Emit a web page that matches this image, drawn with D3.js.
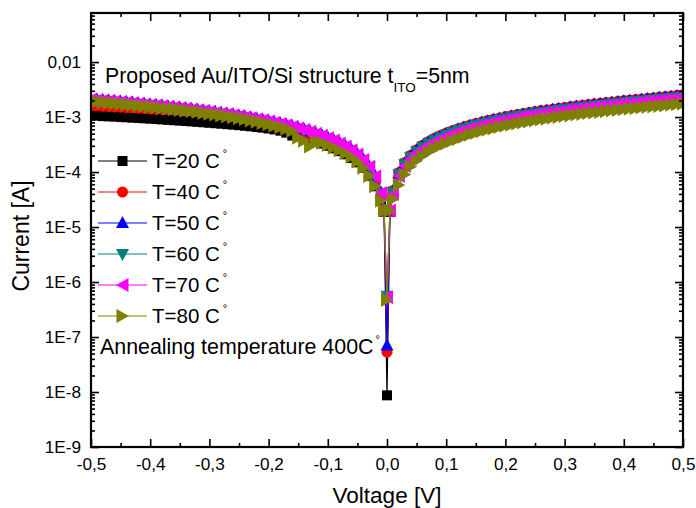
<!DOCTYPE html>
<html>
<head>
<meta charset="utf-8">
<script src="https://cdn.jsdelivr.net/npm/d3@7"></script>
<style>
  html, body { margin: 0; padding: 0; background: #ffffff; }
  svg { display: block; font-family: "Liberation Sans", Arial, sans-serif; }
</style>
</head>
<body>
<svg id="chart" width="696" height="508"></svg>
<script>
// Bias sweep, volts
const voltage = [
  -0.50,-0.49,-0.48,-0.47,-0.46,-0.45,-0.44,-0.43,-0.42,-0.41,
  -0.40,-0.39,-0.38,-0.37,-0.36,-0.35,-0.34,-0.33,-0.32,-0.31,
  -0.30,-0.29,-0.28,-0.27,-0.26,-0.25,-0.24,-0.23,-0.22,-0.21,
  -0.20,-0.19,-0.18,-0.17,-0.16,-0.15,-0.14,-0.13,-0.12,-0.11,
  -0.10,-0.09,-0.08,-0.07,-0.06,-0.05,-0.04,-0.03,-0.02,-0.01,
  -0.005, 0, 0.005,
  0.01,0.02,0.03,0.04,0.05,0.06,0.07,0.08,0.09,0.10,
  0.11,0.12,0.13,0.14,0.15,0.16,0.17,0.18,0.19,0.20,
  0.21,0.22,0.23,0.24,0.25,0.26,0.27,0.28,0.29,0.30,
  0.31,0.32,0.33,0.34,0.35,0.36,0.37,0.38,0.39,0.40,
  0.41,0.42,0.43,0.44,0.45,0.46,0.47,0.48,0.49,0.50
];

// Measured |I| in amperes, one array per measurement temperature
const current20 = [
  1.07e-3,1.06e-3,1.04e-3,1.03e-3,1.02e-3,1.00e-3,9.90e-4,9.75e-4,9.62e-4,9.48e-4,
  9.35e-4,9.20e-4,9.05e-4,8.90e-4,8.76e-4,8.62e-4,8.48e-4,8.33e-4,8.18e-4,8.03e-4,
  7.88e-4,7.73e-4,7.58e-4,7.43e-4,7.28e-4,7.12e-4,6.95e-4,6.78e-4,6.60e-4,6.41e-4,
  6.20e-4,5.96e-4,5.65e-4,5.20e-4,4.60e-4,4.50e-4,4.20e-4,3.90e-4,3.60e-4,3.30e-4,
  3.00e-4,2.70e-4,2.40e-4,2.10e-4,1.80e-4,1.50e-4,1.20e-4,8.50e-5,5.50e-5,3.00e-5,
  1.90e-5, 8.7e-9, 1.90e-5,
  4.40e-5,9.30e-5,1.42e-4,1.91e-4,2.43e-4,2.92e-4,3.41e-4,3.90e-4,4.39e-4,4.88e-4,
  5.37e-4,5.85e-4,6.33e-4,6.81e-4,7.29e-4,7.77e-4,8.25e-4,8.72e-4,9.19e-4,9.66e-4,
  1.01e-3,1.06e-3,1.11e-3,1.15e-3,1.20e-3,1.24e-3,1.28e-3,1.33e-3,1.38e-3,1.42e-3,
  1.47e-3,1.52e-3,1.56e-3,1.61e-3,1.66e-3,1.71e-3,1.74e-3,1.79e-3,1.84e-3,1.89e-3,
  1.94e-3,1.99e-3,2.04e-3,2.09e-3,2.14e-3,2.20e-3,2.24e-3,2.30e-3,2.36e-3,2.43e-3
];
const current40 = [
  1.62e-3,1.60e-3,1.57e-3,1.55e-3,1.53e-3,1.51e-3,1.48e-3,1.47e-3,1.45e-3,1.43e-3,
  1.41e-3,1.39e-3,1.38e-3,1.37e-3,1.36e-3,1.35e-3,1.34e-3,1.31e-3,1.27e-3,1.23e-3,
  1.18e-3,1.14e-3,1.10e-3,1.06e-3,1.02e-3,9.84e-4,9.39e-4,8.94e-4,8.50e-4,8.05e-4,
  7.62e-4,7.19e-4,6.75e-4,6.28e-4,5.90e-4,5.40e-4,4.90e-4,4.50e-4,4.10e-4,3.75e-4,
  3.40e-4,3.05e-4,2.70e-4,2.38e-4,2.05e-4,1.70e-4,1.35e-4,1.00e-4,6.50e-5,3.50e-5,
  1.95e-5, 5.3e-8, 2.00e-5,
  4.60e-5,9.80e-5,1.49e-4,2.01e-4,2.55e-4,3.07e-4,3.58e-4,4.10e-4,4.61e-4,5.13e-4,
  5.64e-4,6.15e-4,6.65e-4,7.16e-4,7.66e-4,8.17e-4,8.67e-4,9.17e-4,9.66e-4,1.02e-3,
  1.06e-3,1.11e-3,1.16e-3,1.21e-3,1.26e-3,1.31e-3,1.35e-3,1.40e-3,1.45e-3,1.49e-3,
  1.55e-3,1.60e-3,1.64e-3,1.69e-3,1.74e-3,1.79e-3,1.83e-3,1.88e-3,1.94e-3,1.99e-3,
  2.04e-3,2.09e-3,2.14e-3,2.19e-3,2.25e-3,2.31e-3,2.36e-3,2.42e-3,2.48e-3,2.55e-3
];
const current50 = [
  2.13e-3,2.08e-3,2.04e-3,2.00e-3,1.96e-3,1.91e-3,1.87e-3,1.83e-3,1.79e-3,1.74e-3,
  1.70e-3,1.66e-3,1.62e-3,1.57e-3,1.53e-3,1.49e-3,1.45e-3,1.40e-3,1.36e-3,1.32e-3,
  1.28e-3,1.23e-3,1.19e-3,1.15e-3,1.11e-3,1.06e-3,1.02e-3,9.78e-4,9.35e-4,8.93e-4,
  8.50e-4,8.08e-4,7.65e-4,7.23e-4,6.80e-4,6.38e-4,5.95e-4,5.53e-4,5.10e-4,4.68e-4,
  4.25e-4,3.83e-4,3.40e-4,2.98e-4,2.55e-4,2.13e-4,1.70e-4,1.28e-4,8.50e-5,4.25e-5,
  2.15e-5, 7.0e-8, 2.00e-5,
  4.50e-5,9.50e-5,1.45e-4,1.95e-4,2.48e-4,2.98e-4,3.48e-4,3.98e-4,4.48e-4,4.98e-4,
  5.48e-4,5.97e-4,6.46e-4,6.95e-4,7.44e-4,7.93e-4,8.42e-4,8.90e-4,9.38e-4,9.86e-4,
  1.03e-3,1.08e-3,1.13e-3,1.17e-3,1.22e-3,1.27e-3,1.31e-3,1.36e-3,1.41e-3,1.45e-3,
  1.50e-3,1.55e-3,1.59e-3,1.64e-3,1.69e-3,1.74e-3,1.78e-3,1.83e-3,1.88e-3,1.93e-3,
  1.98e-3,2.03e-3,2.08e-3,2.13e-3,2.18e-3,2.24e-3,2.29e-3,2.35e-3,2.41e-3,2.48e-3
];
const current60 = [
  2.05e-3,2.01e-3,1.97e-3,1.93e-3,1.89e-3,1.85e-3,1.80e-3,1.76e-3,1.72e-3,1.68e-3,
  1.64e-3,1.60e-3,1.56e-3,1.52e-3,1.48e-3,1.44e-3,1.39e-3,1.35e-3,1.31e-3,1.27e-3,
  1.23e-3,1.19e-3,1.15e-3,1.11e-3,1.07e-3,1.03e-3,9.84e-4,9.43e-4,9.02e-4,8.61e-4,
  8.20e-4,7.79e-4,7.38e-4,6.97e-4,6.56e-4,6.15e-4,5.74e-4,5.33e-4,4.92e-4,4.51e-4,
  4.10e-4,3.69e-4,3.28e-4,2.87e-4,2.46e-4,2.05e-4,1.64e-4,1.23e-4,8.20e-5,4.10e-5,
  2.05e-5, 5.6e-7, 2.00e-5,
  4.30e-5,9.00e-5,1.38e-4,1.85e-4,2.36e-4,2.83e-4,3.31e-4,3.78e-4,4.26e-4,4.73e-4,
  5.21e-4,5.67e-4,6.14e-4,6.60e-4,7.07e-4,7.53e-4,8.00e-4,8.46e-4,8.91e-4,9.37e-4,
  9.79e-4,1.03e-3,1.07e-3,1.11e-3,1.16e-3,1.21e-3,1.24e-3,1.29e-3,1.34e-3,1.38e-3,
  1.43e-3,1.47e-3,1.51e-3,1.56e-3,1.61e-3,1.65e-3,1.69e-3,1.74e-3,1.79e-3,1.83e-3,
  1.88e-3,1.93e-3,1.98e-3,2.02e-3,2.07e-3,2.13e-3,2.18e-3,2.23e-3,2.29e-3,2.36e-3
];
const current70 = [
  2.08e-3,2.03e-3,1.99e-3,1.95e-3,1.91e-3,1.87e-3,1.83e-3,1.78e-3,1.74e-3,1.70e-3,
  1.66e-3,1.62e-3,1.58e-3,1.54e-3,1.49e-3,1.45e-3,1.41e-3,1.37e-3,1.33e-3,1.29e-3,
  1.25e-3,1.20e-3,1.16e-3,1.12e-3,1.08e-3,1.04e-3,9.96e-4,9.55e-4,9.13e-4,8.72e-4,
  8.30e-4,7.89e-4,7.47e-4,7.06e-4,6.64e-4,6.23e-4,5.81e-4,5.40e-4,4.98e-4,4.57e-4,
  4.15e-4,3.74e-4,3.32e-4,2.91e-4,2.49e-4,2.08e-4,1.66e-4,1.25e-4,8.30e-5,4.15e-5,
  2.10e-5, 5.3e-7, 2.00e-5,
  4.00e-5,8.50e-5,1.29e-4,1.74e-4,2.21e-4,2.65e-4,3.10e-4,3.54e-4,3.99e-4,4.43e-4,
  4.88e-4,5.31e-4,5.75e-4,6.19e-4,6.62e-4,7.06e-4,7.49e-4,7.92e-4,8.35e-4,8.78e-4,
  9.17e-4,9.61e-4,1.01e-3,1.04e-3,1.09e-3,1.13e-3,1.17e-3,1.21e-3,1.25e-3,1.29e-3,
  1.34e-3,1.38e-3,1.42e-3,1.46e-3,1.50e-3,1.55e-3,1.58e-3,1.63e-3,1.67e-3,1.72e-3,
  1.76e-3,1.81e-3,1.85e-3,1.90e-3,1.94e-3,1.99e-3,2.04e-3,2.09e-3,2.14e-3,2.21e-3
];
const current80 = [
  1.93e-3,1.89e-3,1.85e-3,1.81e-3,1.77e-3,1.73e-3,1.69e-3,1.65e-3,1.61e-3,1.57e-3,
  1.53e-3,1.49e-3,1.45e-3,1.42e-3,1.38e-3,1.34e-3,1.30e-3,1.27e-3,1.23e-3,1.19e-3,
  1.15e-3,1.11e-3,1.07e-3,1.03e-3,9.95e-4,9.55e-4,9.12e-4,8.68e-4,8.25e-4,7.82e-4,
  7.40e-4,6.98e-4,6.55e-4,6.10e-4,5.60e-4,4.20e-4,3.70e-4,2.90e-4,3.50e-4,3.40e-4,
  3.10e-4,2.80e-4,2.50e-4,2.20e-4,1.90e-4,1.55e-4,1.20e-4,8.50e-5,5.50e-5,3.00e-5,
  2.00e-5, 4.7e-7, 2.00e-5,
  3.20e-5,5.80e-5,9.00e-5,1.25e-4,1.60e-4,1.95e-4,2.30e-4,2.65e-4,2.98e-4,3.30e-4,
  3.65e-4,4.00e-4,4.38e-4,4.75e-4,5.12e-4,5.50e-4,5.86e-4,6.22e-4,6.58e-4,6.93e-4,
  7.27e-4,7.62e-4,7.97e-4,8.32e-4,8.66e-4,9.00e-4,9.35e-4,9.70e-4,1.00e-3,1.04e-3,
  1.07e-3,1.11e-3,1.14e-3,1.18e-3,1.21e-3,1.24e-3,1.28e-3,1.31e-3,1.35e-3,1.38e-3,
  1.42e-3,1.45e-3,1.49e-3,1.52e-3,1.56e-3,1.59e-3,1.63e-3,1.67e-3,1.71e-3,1.75e-3
];

const seriesLabels = ["T=20 C", "T=40 C", "T=50 C", "T=60 C", "T=70 C", "T=80 C"];

// Axis ticks and their printed labels (decimal comma)
const xTickValues = [-0.5, -0.4, -0.3, -0.2, -0.1, 0, 0.1, 0.2, 0.3, 0.4, 0.5];
const xTickLabels = ["-0,5", "-0,4", "-0,3", "-0,2", "-0,1", "0,0", "0,1", "0,2", "0,3", "0,4", "0,5"];
const yTickValues = [1e-9, 1e-8, 1e-7, 1e-6, 1e-5, 1e-4, 1e-3, 1e-2];
const yTickLabels = ["1E-9", "1E-8", "1E-7", "1E-6", "1E-5", "1E-4", "1E-3", "0,01"];

// ---- layout ----
const W = 696, H = 508;
const plot = { left: 91, right: 683, top: 13, bottom: 447 };

const svg = d3.select("#chart");

const x = d3.scaleLinear().domain([-0.5, 0.5]).range([plot.left, plot.right]);
const y = d3.scaleLog().domain([1e-9, 0.078]).range([plot.bottom, plot.top]);

// Marker outlines centred on the data point
const markerPaths = {
  square: "M-5,-5H5V5H-5Z",
  circle: d3.symbol(d3.symbolCircle, Math.PI * 5.5 * 5.5)(),
  up:     "M0,-7L6.5,5H-6.5Z",
  down:   "M0,7L6.5,-5H-6.5Z",
  left:   "M-6.5,0L6,-7V7Z",
  right:  "M6.5,0L-6,-7V7Z"
};

const seriesColors = ["#000000", "#ff0000", "#0000ff", "#008080", "#ff00ff", "#808000"];
const seriesMarkers = ["square", "circle", "up", "down", "left", "right"];
const seriesValues = [current20, current40, current50, current60, current70, current80];

const series = seriesLabels.map((label, k) => ({
  label,
  color: seriesColors[k],
  marker: seriesMarkers[k],
  points: voltage.map((v, i) => ({ v, i: seriesValues[k][i] }))
}));

svg.append("rect").attr("width", W).attr("height", H).attr("fill", "#ffffff");

svg.append("defs").append("clipPath").attr("id", "plotClip")
  .append("rect")
  .attr("x", plot.left).attr("y", plot.top)
  .attr("width", plot.right - plot.left).attr("height", plot.bottom - plot.top);

// ---- data ----
const dataLayer = svg.append("g").attr("clip-path", "url(#plotClip)");
const line = d3.line().x(d => x(d.v)).y(d => y(d.i));

series.forEach(s => {
  const g = dataLayer.append("g");
  g.append("path")
    .datum(s.points)
    .attr("d", line)
    .attr("fill", "none")
    .attr("stroke", s.color)
    .attr("stroke-width", 1.2);
  g.selectAll("path.marker")
    .data(s.points)
    .join("path")
    .attr("class", "marker")
    .attr("d", markerPaths[s.marker])
    .attr("transform", d => `translate(${x(d.v)},${y(d.i)})`)
    .attr("fill", s.color);
});

// ---- axes ----
const xMinor = d3.range(-0.45, 0.5, 0.1);
const yMinor = [];
yTickValues.forEach(d => {
  for (let m = 2; m <= 9; m++) {
    const val = m * d;
    if (val < y.domain()[1]) yMinor.push(val);
  }
});

function styleAxis(g) {
  g.select(".domain").remove();
  g.selectAll(".tick line").attr("stroke", "#000").attr("stroke-width", 1.6);
  g.selectAll("text")
    .attr("fill", "#000")
    .attr("font-family", "'Liberation Sans', Arial, sans-serif")
    .attr("font-size", 17.2);
}

// bottom
svg.append("g").attr("transform", `translate(0,${plot.bottom})`)
  .call(d3.axisBottom(x).tickValues(xTickValues).tickSize(-8)
    .tickFormat((d, i) => xTickLabels[i]).tickPadding(11))
  .call(styleAxis);
svg.append("g").attr("transform", `translate(0,${plot.bottom})`)
  .call(d3.axisBottom(x).tickValues(xMinor).tickSize(-4).tickFormat(""))
  .call(styleAxis);
// top
svg.append("g").attr("transform", `translate(0,${plot.top})`)
  .call(d3.axisTop(x).tickValues(xTickValues).tickSize(-8).tickFormat(""))
  .call(styleAxis);
svg.append("g").attr("transform", `translate(0,${plot.top})`)
  .call(d3.axisTop(x).tickValues(xMinor).tickSize(-4).tickFormat(""))
  .call(styleAxis);
// left
svg.append("g").attr("transform", `translate(${plot.left},0)`)
  .call(d3.axisLeft(y).tickValues(yTickValues).tickSize(-8)
    .tickFormat((d, i) => yTickLabels[i]).tickPadding(10))
  .call(styleAxis);
svg.append("g").attr("transform", `translate(${plot.left},0)`)
  .call(d3.axisLeft(y).tickValues(yMinor).tickSize(-4).tickFormat(""))
  .call(styleAxis);
// right
svg.append("g").attr("transform", `translate(${plot.right},0)`)
  .call(d3.axisRight(y).tickValues(yTickValues).tickSize(-8).tickFormat(""))
  .call(styleAxis);
svg.append("g").attr("transform", `translate(${plot.right},0)`)
  .call(d3.axisRight(y).tickValues(yMinor).tickSize(-4).tickFormat(""))
  .call(styleAxis);

// frame
svg.append("rect")
  .attr("x", plot.left).attr("y", plot.top)
  .attr("width", plot.right - plot.left).attr("height", plot.bottom - plot.top)
  .attr("fill", "none").attr("stroke", "#000").attr("stroke-width", 2.2);

// ---- axis titles ----
svg.append("text")
  .attr("x", (plot.left + plot.right) / 2).attr("y", 503)
  .attr("text-anchor", "middle").attr("font-size", 22.5)
  .text("Voltage [V]");
svg.append("text")
  .attr("transform", `translate(29,${(plot.top + plot.bottom) / 2 + 6}) rotate(-90)`)
  .attr("text-anchor", "middle").attr("font-size", 23)
  .text("Current [A]");

// ---- annotations ----
const title = svg.append("text").attr("x", 105).attr("y", 83).attr("font-size", 21.3);
title.append("tspan").text("Proposed Au/ITO/Si structure t");
title.append("tspan").attr("font-size", 13.5).attr("dy", 8.5).text("ITO");
title.append("tspan").attr("dy", -8.5).text("=5nm");

const anneal = svg.append("text").attr("x", 100).attr("y", 354).attr("font-size", 21.4);
anneal.append("tspan").text("Annealing temperature 400C");
anneal.append("tspan").attr("font-size", 11).attr("dx", 2).attr("dy", -11).text("°");

// ---- legend ----
const legend = svg.append("g");
series.forEach((s, k) => {
  const cy = 161 + k * 31;
  legend.append("line")
    .attr("x1", 98).attr("x2", 147).attr("y1", cy).attr("y2", cy)
    .attr("stroke", s.color).attr("stroke-width", 1);
  legend.append("path")
    .attr("d", markerPaths[s.marker])
    .attr("transform", `translate(122.5,${cy})`)
    .attr("fill", s.color);
  const t = legend.append("text").attr("x", 152).attr("y", cy + 7.3).attr("font-size", 20.5);
  t.append("tspan").text(s.label);
  t.append("tspan").attr("font-size", 11).attr("dx", 3).attr("dy", -11).text("°");
});
</script>
</body>
</html>
